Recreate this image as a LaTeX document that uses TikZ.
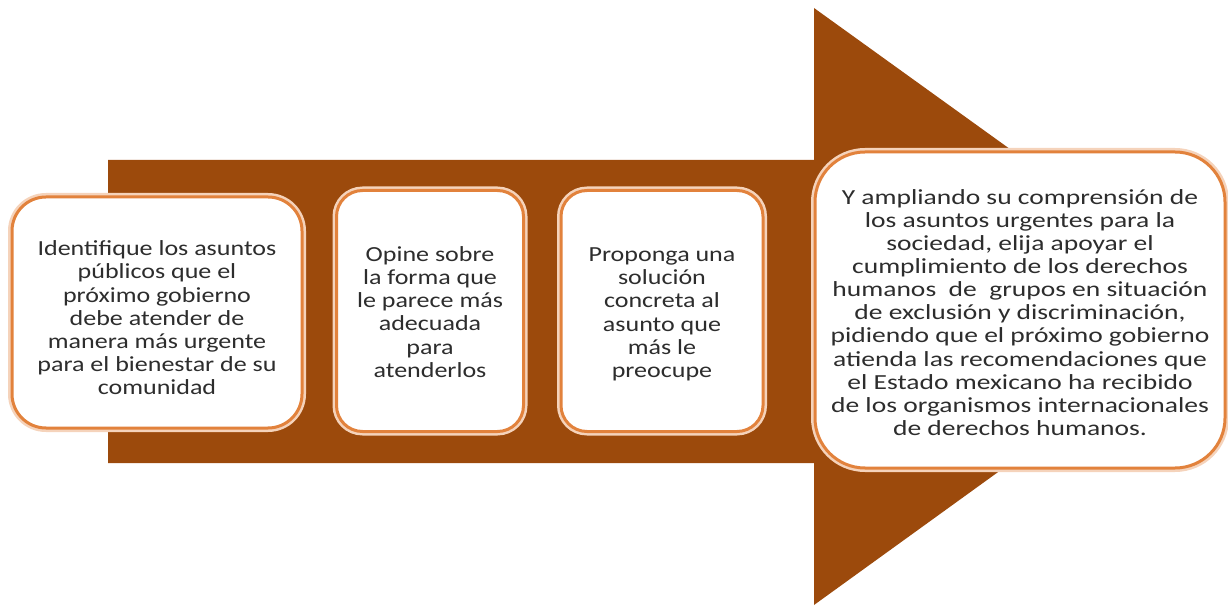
\documentclass[tikz,border=0pt]{standalone}
\usepackage{fontspec}
\setmainfont{Carlito}
\newfontfamily\fa{Carlito}[FakeStretch=1.21]
\newfontfamily\fb{Carlito}[FakeStretch=1.28]
\definecolor{arrowbrown}{RGB}{156,74,12}
\definecolor{boxorange}{RGB}{226,130,60}
\definecolor{txtgray}{RGB}{45,45,45}
\begin{document}
\begin{tikzpicture}[x=1pt,y=-1pt,
  stepbox/.style={draw=boxorange, line width=3pt, fill=white, inner sep=0pt,
    preaction={draw=boxorange!35, line width=8pt}},
  steptext/.style={align=center, text=txtgray, inner sep=0pt,
    font=\fa\fontsize{21.5}{23.2}\selectfont},
  bigtext/.style={align=center, text=txtgray, inner sep=0pt,
    font=\fb\fontsize{21.5}{23.1}\selectfont}]
\useasboundingbox (0,0) rectangle (1228,609);
% big arrow
\fill[arrowbrown] (108,160) -- (814,160) -- (814,8) -- (1228,306) -- (814,605) -- (814,463) -- (108,463) -- cycle;
% boxes
\node[stepbox, rounded corners=34pt, minimum width=290pt, minimum height=231pt] (b1) at (157,312.5) {};
\node[stepbox, rounded corners=26pt, minimum width=187pt, minimum height=241pt] (b2) at (430,311) {};
\node[stepbox, rounded corners=26pt, minimum width=202pt, minimum height=241pt] (b3) at (662,311) {};
\node[stepbox, rounded corners=50pt, minimum width=410pt, minimum height=316pt] (b4) at (1020,310) {};
% texts
\node[steptext] (t1) at ([yshift=-5.5pt]b1.center)
  {Identifique los asuntos\\ públicos que el\\ próximo gobierno\\ debe atender de\\ manera más urgente\\ para el bienestar de su\\ comunidad};
\node[steptext] (t2) at ([yshift=-1pt]b2.center)
  {Opine sobre\\ la forma que\\ le parece más\\ adecuada\\ para\\ atenderlos};
\node[steptext] (t3) at ([yshift=-3.3pt]b3.center)
  {Proponga una\\ solución\\ concreta al\\ asunto que\\ más le\\ preocupe};
\node[bigtext] (t4) at ([yshift=-2.5pt]b4.center)
  {Y ampliando su comprensión de\\ los asuntos urgentes para la\\ sociedad, elija apoyar el\\ cumplimiento de los derechos\\ humanos\ \ de\ \ grupos en situación\\ de exclusión y discriminación,\\ pidiendo que el próximo gobierno\\ atienda las recomendaciones que\\ el Estado mexicano ha recibido\\ de los organismos internacionales\\ de derechos humanos.};
\end{tikzpicture}
\end{document}
